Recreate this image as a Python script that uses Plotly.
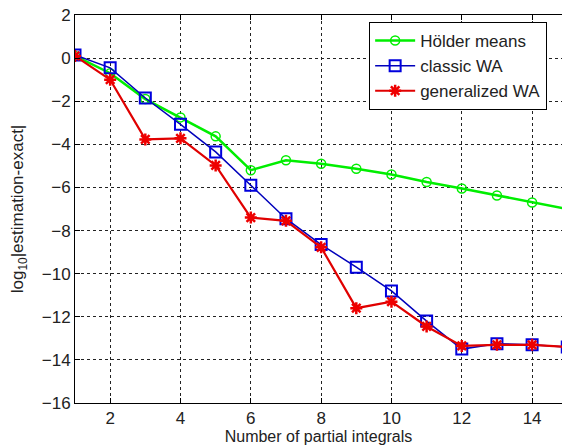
import plotly.graph_objects as go

x_vals = list(range(1, 16))
holder = [0.1, -0.7, -1.9, -2.75, -3.63, -5.2, -4.74, -4.9, -5.13, -5.4, -5.75, -6.05, -6.37, -6.7, -7.0]
classic = [0.15, -0.45, -1.85, -3.07, -4.35, -5.9, -7.45, -8.65, -9.7, -10.8, -12.2, -13.5, -13.25, -13.3, -13.4]
general = [0.1, -1.0, -3.77, -3.72, -4.98, -7.4, -7.55, -8.78, -11.6, -11.3, -12.45, -13.35, -13.3, -13.3, -13.4]

names = ["Hölder means", "classic WA", "generalized WA"]
x_ticks = [2, 4, 6, 8, 10, 12, 14]
y_ticks = list(range(-16, 3, 2))

FONT = "Liberation Sans, Arial"
fig = go.Figure()
fig.add_trace(go.Scatter(x=x_vals, y=holder, name=names[0], mode="lines+markers",
                         line=dict(color="#00ee00", width=2.5),
                         marker=dict(symbol="circle-open", size=9, color="#00ee00", line=dict(width=1.5))))
fig.add_trace(go.Scatter(x=x_vals, y=classic, name=names[1], mode="lines+markers",
                         line=dict(color="#0000bb", width=1.5),
                         marker=dict(symbol="square-open", size=11, color="#0000dd", line=dict(width=2))))
fig.add_trace(go.Scatter(x=x_vals, y=general, name=names[2], mode="lines+markers",
                         line=dict(color="#e00000", width=2.2),
                         marker=dict(symbol="asterisk-open", size=10, color="#ee0000", line=dict(width=2.5, color="#ee0000"))))

axis_common = dict(showline=True, linecolor="black", linewidth=1,
                   ticks="inside", ticklen=5, tickcolor="black", automargin=False,
                   showgrid=True, gridcolor="#222", gridwidth=1, griddash="dot",
                   zeroline=False, tickfont=dict(family=FONT, size=17, color="#222"))

fig.update_xaxes(range=[1, 14.85], tickvals=x_ticks, mirror="ticks",
                 title=dict(text="Number of partial integrals", standoff=6,
                            font=dict(family=FONT, size=16, color="#222")),
                 **axis_common)
fig.update_yaxes(range=[-16, 2], tickvals=y_ticks, mirror=False,
                 title=dict(text="log<sub>10</sub>|estimation-exact|", standoff=13,
                            font=dict(family=FONT, size=17, color="#222")),
                 **axis_common)

fig.update_layout(width=562, height=445, plot_bgcolor="white", paper_bgcolor="white",
                  margin=dict(l=75, r=0, t=15, b=42),
                  legend=dict(x=0.604, y=0.982, xanchor="left", yanchor="top",
                              bordercolor="black", borderwidth=1, bgcolor="white",
                              font=dict(family=FONT, size=17, color="#222"),
                              tracegroupgap=0, itemwidth=40),
                  showlegend=True)

fig.write_html("out.html", config={"displayModeBar": False},
               post_script="document.body.style.margin='0';document.body.style.overflow='hidden';")
